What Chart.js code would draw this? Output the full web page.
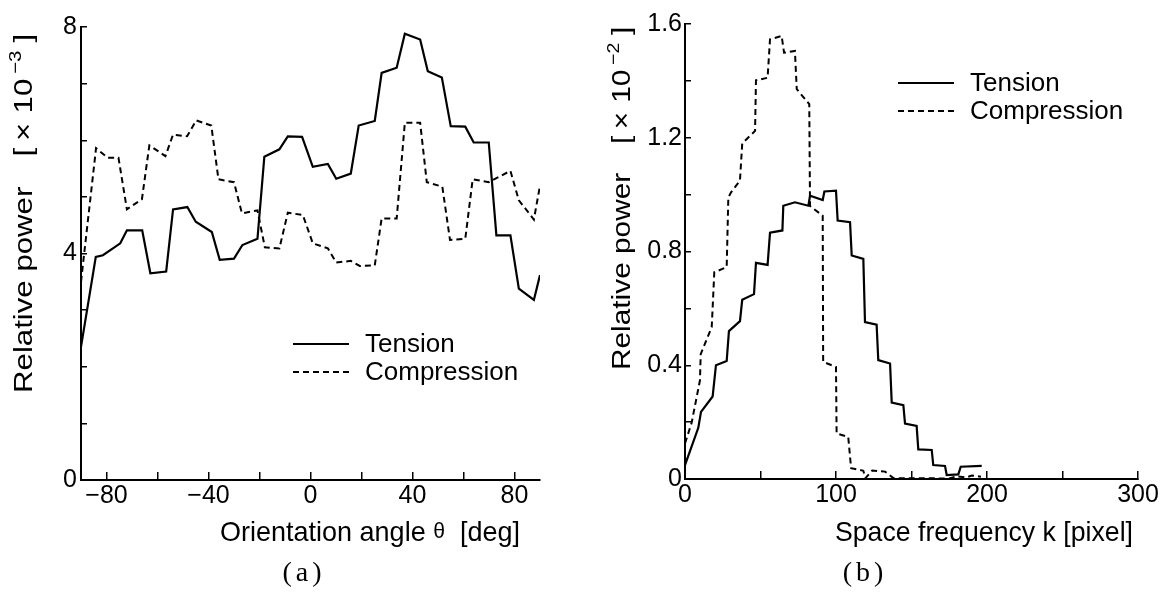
<!DOCTYPE html>
<html>
<head>
<meta charset="utf-8">
<script src="https://cdn.jsdelivr.net/npm/chart.js@4.4.1/dist/chart.umd.min.js"></script>
<style>
  html, body { margin: 0; padding: 0; background: #fff; }
  #page { position: relative; width: 1161px; height: 593px; overflow: hidden; }
  canvas { position: absolute; top: 0; }
  #angleChart { left: 0; }
  #freqChart { left: 580px; }
  .caption {
    position: absolute; top: 556px; line-height: 28px;
    font: 28px "Liberation Serif", "DejaVu Serif", serif;
    letter-spacing: 4px; color: #000; transform: translateX(-50%);
  }
</style>
</head>
<body>
<div id="page">
  <canvas id="angleChart" width="580" height="593"></canvas>
  <canvas id="freqChart" width="581" height="593"></canvas>
  <div class="caption" style="left:304px">(a)</div>
  <div class="caption" style="left:865px">(b)</div>
</div>
<script>
const FONT = '"Liberation Sans", Arial, sans-serif';

// (a) orientation spectrum, power in units of 1e-3
const angleTicks = [-80, -60, -40, -20, 0, 20, 40, 60, 80];
const angleLabels = [-80, -40, 0, 40, 80];
const powerTicksA = [0, 1, 2, 3, 4, 5, 6, 7, 8];
const powerLabelsA = [0, 4, 8];

const tensionAngle = [-90, -84.2, -81.4, -74.6, -72.0, -66.0, -62.8, -56.6, -53.9, -48.3, -45.0, -38.7,
  -35.6, -30.0, -26.7, -20.8, -18.1, -12.2, -8.9, -3.3, 0.9, 6.8, 10.1, 15.8, 18.9, 25.2, 27.9, 33.8,
  37.0, 43.0, 46.0, 51.5, 55.0, 60.7, 64.0, 69.9, 72.9, 78.4, 81.7, 87.6, 90];
const tensionPowerA = [2.35, 3.94, 3.97, 4.18, 4.41, 4.41, 3.65, 3.68, 4.78, 4.82, 4.56, 4.38,
  3.89, 3.91, 4.15, 4.26, 5.71, 5.84, 6.07, 6.06, 5.53, 5.58, 5.32, 5.41, 6.26, 6.34, 7.19, 7.28,
  7.88, 7.78, 7.22, 7.11, 6.25, 6.24, 5.96, 5.96, 4.32, 4.32, 3.38, 3.18, 3.62];

const compressionAngle = [-90, -84.1, -79.5, -75.3, -72.0, -66.1, -63.2, -56.9, -53.9, -48.4, -44.8, -38.9,
  -36.1, -30.0, -26.9, -20.8, -17.9, -12.2, -8.9, -3.0, 0.9, 6.8, 10.1, 15.8, 19.3, 25.2, 27.9, 33.8,
  37.0, 43.0, 45.6, 51.7, 54.7, 60.7, 63.6, 69.9, 78.4, 81.7, 87.6, 90];
const compressionPowerA = [3.5, 5.86, 5.69, 5.69, 4.78, 4.96, 5.91, 5.72, 6.10, 6.07, 6.35, 6.26,
  5.31, 5.26, 4.71, 4.76, 4.11, 4.09, 4.72, 4.68, 4.18, 4.09, 3.84, 3.87, 3.78, 3.79, 4.62, 4.62,
  6.31, 6.31, 5.26, 5.18, 4.24, 4.26, 5.31, 5.26, 5.46, 4.94, 4.6, 5.2];

// (b) space frequency spectrum, power in units of 1e-2
const freqTicks = [0, 50, 100, 150, 200, 250, 300];
const freqLabels = [0, 100, 200, 300];
const powerTicksB = [0, 0.2, 0.4, 0.6, 0.8, 1.0, 1.2, 1.4, 1.6];
const powerLabelsB = [0, 0.4, 0.8, 1.2, 1.6];

const tensionFreq = [0, 8.8, 10.6, 18.3, 20.5, 27.6, 29.1, 36.4, 37.9, 45.7, 47.0, 54.7, 56.3, 64.5,
  65.1, 72.8, 81.7, 82.8, 91.2, 92.3, 100.0, 101.1, 109.3, 110.4, 118.1, 119.2, 126.9, 128.0, 135.8,
  136.9, 144.6, 145.7, 153.4, 154.5, 163.4, 164.4, 172.2, 173.3, 181.0, 182.6, 196.5];
const tensionPowerB = [0.049, 0.18, 0.236, 0.29, 0.40, 0.415, 0.52, 0.555, 0.63, 0.65, 0.76, 0.753, 0.866, 0.874,
  0.961, 0.973, 0.961, 0.996, 0.981, 1.011, 1.014, 0.909, 0.903, 0.786, 0.774, 0.552, 0.543, 0.418, 0.406,
  0.269, 0.26, 0.195, 0.187, 0.104, 0.102, 0.049, 0.046, 0.014, 0.016, 0.043, 0.046];

const compressionFreq = [0, 4.4, 9.9, 10.4, 17.7, 19.4, 27.6, 28.7, 30.5, 36.4, 37.9, 46.4, 47.0, 54.7,
  56.3, 64.0, 65.6, 72.8, 74.0, 82.3, 82.8, 91.2, 91.5, 100.0, 100.4, 108.1, 110.0, 118.1, 119.5,
  124.0, 132.5, 138.0, 175.0, 180.0, 186.0, 190.0, 196.0];
const compressionPowerB = [0.125, 0.198, 0.347, 0.439, 0.534, 0.727, 0.745, 0.99, 1.008, 1.049, 1.18, 1.224, 1.402, 1.411,
  1.546, 1.558, 1.499, 1.505, 1.371, 1.318, 0.96, 0.926, 0.412, 0.394, 0.16, 0.148, 0.038, 0.029, 0.003,
  0.03, 0.026, 0.003, 0.002, 0.01, 0.005, 0.012, 0.008];

function points(xs, ys) {
  return xs.map((x, i) => ({ x: x, y: ys[i] }));
}

function fmt(v) {
  return v < 0 ? '\u2212' + Math.abs(v) : String(v);
}

function xAxis(min, max, ticks, labels, height) {
  return {
    type: 'linear', min: min, max: max,
    afterBuildTicks: s => { s.ticks = ticks.map(v => ({ value: v })); },
    afterFit: s => { s.height = height; },
    ticks: {
      callback: v => labels.includes(v) ? fmt(v) : '',
      color: '#000', padding: 0, autoSkip: false, maxRotation: 0,
      font: { family: FONT, size: 25, lineHeight: 48 / 25 }
    },
    grid: { drawOnChartArea: false, drawTicks: true, tickLength: -8, color: '#000', lineWidth: 1.5 },
    border: { display: true, color: '#000', width: 2 }
  };
}

function yAxis(min, max, ticks, labels, width, padding) {
  return {
    type: 'linear', min: min, max: max,
    afterBuildTicks: s => { s.ticks = ticks.map(v => ({ value: v })); },
    afterFit: s => { s.width = width; },
    ticks: {
      callback: v => labels.includes(v) ? fmt(v) : '',
      color: '#000', padding: padding, autoSkip: false,
      font: { family: FONT, size: 25 }
    },
    grid: { drawOnChartArea: false, drawTicks: true, tickLength: -6, color: '#000', lineWidth: 1.5 },
    border: { display: true, color: '#000', width: 2 }
  };
}

// text laid out in pieces and stretched along its baseline to a given length
function drawParts(ctx, parts, x, y, length, angle) {
  ctx.save();
  ctx.translate(x, y);
  ctx.rotate(angle);
  let natural = 0;
  parts.forEach(p => {
    ctx.font = p.size + 'px ' + FONT;
    p.w = ctx.measureText(p.text).width;
    natural += p.w;
  });
  ctx.scale(length / natural, 1);
  ctx.fillStyle = '#000';
  ctx.textBaseline = 'alphabetic';
  let pos = 0;
  parts.forEach(p => {
    ctx.font = p.size + 'px ' + FONT;
    ctx.fillText(p.text, pos, -(p.rise || 0));
    pos += p.w;
  });
  ctx.restore();
}

function drawPowerTitle(ctx, x, y, exponent, k) {
  ctx.save();
  ctx.translate(x, y);
  ctx.rotate(-Math.PI / 2);
  ctx.scale(k, 1);
  ctx.fillStyle = '#000';
  ctx.textBaseline = 'alphabetic';
  ctx.font = '26px ' + FONT;
  ctx.fillText('Relative power', 0, 0);
  ctx.fillText('[', 197, 0);
  ctx.fillText('\u00d7', 210, 0);
  ctx.fillText('10', 233, 0);
  ctx.font = '17px ' + FONT;
  ctx.fillText('\u2212' + exponent, 266, -11);
  ctx.font = '26px ' + FONT;
  ctx.fillText(']', 292, 0);
  ctx.restore();
}

const axisTitles = {
  id: 'axisTitles',
  afterDraw(chart, args, opts) {
    const ctx = chart.ctx;
    drawParts(ctx, opts.xParts, opts.xLeft, opts.xBaseline, opts.xLength, 0);
    drawPowerTitle(ctx, opts.yBaseline, opts.yBottom, opts.exponent, opts.yStretch);
  }
};

const sampleLegend = {
  id: 'sampleLegend',
  afterDraw(chart, args, opts) {
    const ctx = chart.ctx;
    ctx.save();
    ctx.font = '26px ' + FONT;
    ctx.textBaseline = 'middle';
    ctx.fillStyle = '#000';
    ctx.strokeStyle = '#000';
    ctx.lineWidth = 2;
    chart.data.datasets.forEach((ds, i) => {
      const y = opts.y + i * 28;
      ctx.beginPath();
      ctx.setLineDash(ds.borderDash || []);
      ctx.moveTo(opts.x, y);
      ctx.lineTo(opts.x + 56, y);
      ctx.stroke();
      ctx.setLineDash([]);
      ctx.fillText(ds.label, opts.x + 72, y + 1);
    });
    ctx.restore();
  }
};

function datasets(tension, compression) {
  return [
    { label: 'Tension', data: tension, borderColor: '#000', borderWidth: 2.2,
      pointRadius: 0, tension: 0, fill: false },
    { label: 'Compression', data: compression, borderColor: '#000', borderWidth: 2,
      borderDash: [6, 4], pointRadius: 0, tension: 0, fill: false }
  ];
}

new Chart(document.getElementById('angleChart'), {
  type: 'line',
  data: { datasets: datasets(points(tensionAngle, tensionPowerA), points(compressionAngle, compressionPowerA)) },
  options: {
    responsive: false, animation: false, devicePixelRatio: 1,
    layout: { padding: { left: 0, top: 27, right: 40, bottom: 0 } },
    scales: {
      x: xAxis(-90, 90, angleTicks, angleLabels, 113),
      y: yAxis(0, 8, powerTicksA, powerLabelsA, 81, 10)
    },
    plugins: {
      legend: { display: false },
      tooltip: { enabled: false },
      sampleLegend: { x: 293, y: 344 },
      axisTitles: {
        xParts: [{ text: 'Orientation angle ', size: 28 }, { text: '\u03b8', size: 22, rise: 3 },
                 { text: '  [deg]', size: 28 }],
        xLeft: 220, xBaseline: 541, xLength: 300,
        yBaseline: 32, yBottom: 393, exponent: '3', yStretch: 1.2
      }
    }
  },
  plugins: [sampleLegend, axisTitles]
});

new Chart(document.getElementById('freqChart'), {
  type: 'line',
  data: { datasets: datasets(points(tensionFreq, tensionPowerB), points(compressionFreq, compressionPowerB)) },
  options: {
    responsive: false, animation: false, devicePixelRatio: 1,
    layout: { padding: { left: 0, top: 23, right: 23, bottom: 0 } },
    scales: {
      x: xAxis(0, 300, freqTicks, freqLabels, 114),
      y: yAxis(0, 1.6, powerTicksB, powerLabelsB, 105, 9)
    },
    plugins: {
      legend: { display: false },
      tooltip: { enabled: false },
      sampleLegend: { x: 318, y: 83 },
      axisTitles: {
        xParts: [{ text: 'Space frequency k [pixel]', size: 28 }],
        xLeft: 255, xBaseline: 541, xLength: 298,
        yBaseline: 50, yBottom: 370, exponent: '2', yStretch: 1.147
      }
    }
  },
  plugins: [sampleLegend, axisTitles]
});
</script>
</body>
</html>
